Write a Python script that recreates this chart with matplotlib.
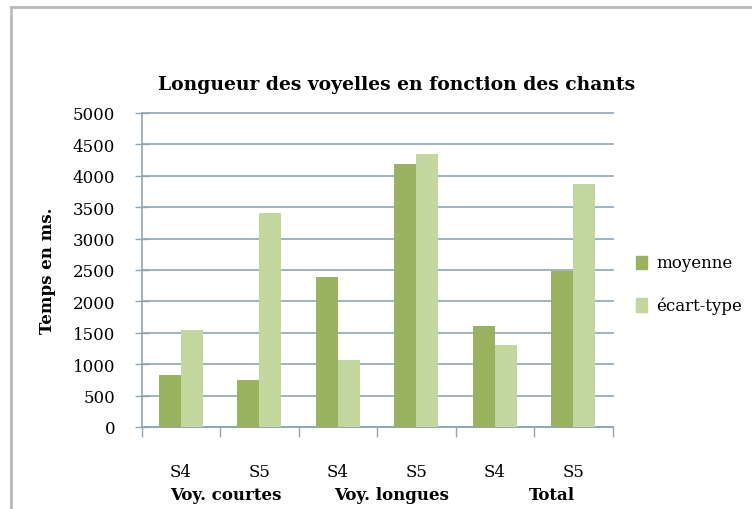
import matplotlib
matplotlib.use("Agg")
import matplotlib.pyplot as plt
from matplotlib.patches import Rectangle
import numpy as np

# durations (ms) per song / vowel group
songs = ["S4", "S5", "S4", "S5", "S4", "S5"]
groups = ["Voy. courtes", "Voy. longues", "Total"]
moyenne = [830, 750, 2390, 4190, 1610, 2480]
ecart_type = [1550, 3400, 1070, 4350, 1310, 3870]
y_ticks = [0, 500, 1000, 1500, 2000, 2500, 3000, 3500, 4000, 4500, 5000]

DARK = "#9ab25d"
LIGHT = "#c3d69d"
GRID = "#8ea5b5"

plt.rcParams["font.family"] = ["DejaVu Serif"]

fig = plt.figure(figsize=(7.52, 5.10), dpi=100)
ax = fig.add_axes([0.1884, 0.1608, 0.6264, 0.6157])

x = np.arange(len(songs))
w = 0.28
ax.bar(x - w / 2, moyenne, w, color=DARK, label="moyenne", zorder=3)
ax.bar(x + w / 2, ecart_type, w, color=LIGHT, label="écart-type", zorder=3)

ax.set_xlim(-0.5, len(songs) - 0.5)
ax.set_ylim(0, 5000)
ax.set_yticks(y_ticks)
ax.tick_params(axis="y", direction="inout", length=10, width=1, color=GRID,
               pad=14, labelsize=12)
ax.yaxis.grid(True, color=GRID, linewidth=1.2, zorder=0)
for gl in ax.get_ygridlines():
    gl.set_clip_on(False)  # keep the 5000 line at full width

# category boundaries get the tick marks, centres get the labels
ax.set_xticks(np.arange(-0.5, len(songs)), labels=[""] * (len(songs) + 1))
ax.set_xticks(x, labels=songs, minor=True)
ax.tick_params(axis="x", which="major", direction="out", length=7, width=1, color=GRID)
ax.tick_params(axis="x", which="minor", length=0, pad=26, labelsize=12)

for side in ["top", "right"]:
    ax.spines[side].set_visible(False)
for side in ["left", "bottom"]:
    ax.spines[side].set_color(GRID)
    ax.spines[side].set_linewidth(1.2)

ax.set_ylabel("Temps en ms.", fontsize=12, fontweight="bold", labelpad=12)

# second row of category labels
for gx, name in zip([0.57, 2.68, 4.72], groups):
    ax.text(gx, -0.215, name, transform=ax.get_xaxis_transform(), ha="center",
            va="center", fontsize=12, fontweight="bold")

fig.text(0.527, 0.833, "Longueur des voyelles en fonction des chants",
         ha="center", va="center", fontsize=13.5, fontweight="bold")

# legend drawn as squares + text on the right
for yy, col, lab in [(0.484, DARK, "moyenne"), (0.400, LIGHT, "écart-type")]:
    fig.patches.append(Rectangle((0.846, yy - 0.013), 0.015, 0.026, color=col,
                                 transform=fig.transFigure, figure=fig))
    fig.text(0.873, yy, lab, ha="left", va="center", fontsize=12)

# chart area frame (left and top edges)
fig.add_artist(plt.Line2D([0.014, 0.014], [0, 0.985], color="#b5b9bb", linewidth=2,
                          transform=fig.transFigure))
fig.add_artist(plt.Line2D([0.014, 1.0], [0.985, 0.985], color="#b5b9bb", linewidth=2,
                          transform=fig.transFigure))

fig.savefig("out.png", dpi=100)
